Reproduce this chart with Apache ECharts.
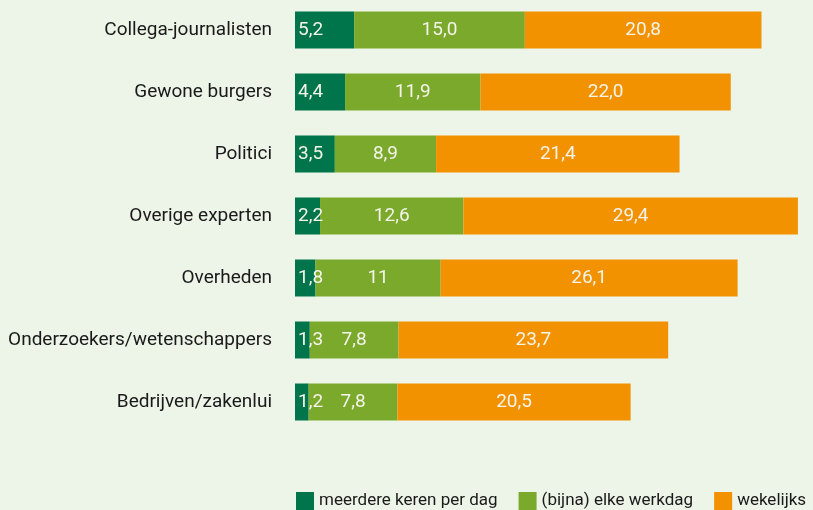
<!DOCTYPE html>
<html>
<head>
<meta charset="utf-8">
<script src="https://cdn.jsdelivr.net/npm/echarts@6/dist/echarts.min.js"></script>
<style>
  html, body { margin: 0; padding: 0; background: #edf4e8; }
  #chart { width: 813px; height: 510px; }
</style>
</head>
<body>
<div id="chart"></div>
<script>
const categories = [
  'Collega-journalisten',
  'Gewone burgers',
  'Politici',
  'Overige experten',
  'Overheden',
  'Onderzoekers/wetenschappers',
  'Bedrijven/zakenlui'
];
const seriesNames = ['meerdere keren per dag', '(bijna) elke werkdag', 'wekelijks'];
const meerdereKeren = [5.2, 4.4, 3.5, 2.2, 1.8, 1.3, 1.2];
const elkeWerkdag = [15.0, 11.9, 8.9, 12.6, 11, 7.8, 7.8];
const wekelijks = [20.8, 22.0, 21.4, 29.4, 26.1, 23.7, 20.5];
// how each value is printed in the bar (the source shows "11" without decimal)
const elkeWerkdagLabels = ['15,0', '11,9', '8,9', '12,6', '11', '7,8', '7,8'];

const colors = ['#00744a', '#7aa92b', '#f39200'];
const font = 'Roboto, sans-serif';

const fmt = v => v.toFixed(1).replace('.', ',');

function labelStyle(extra) {
  return Object.assign({
    show: true,
    color: '#f4f4ea',
    fontFamily: font,
    fontSize: 19
  }, extra);
}

const chart = echarts.init(document.getElementById('chart'));

chart.setOption({
  backgroundColor: '#edf4e8',
  animation: false,
  grid: { left: 295, top: -1, height: 434, width: 512, outerBoundsMode: 'none' },
  xAxis: { type: 'value', min: 0, max: 45, show: false },
  yAxis: {
    type: 'category',
    data: categories,
    inverse: true,
    axisLine: { show: false },
    axisTick: { show: false },
    axisLabel: { color: '#1a1a1a', fontFamily: font, fontSize: 19, margin: 23 }
  },
  legend: {
    left: 296,
    top: 492,
    width: 700,
    padding: 0,
    icon: 'rect',
    itemWidth: 18,
    itemHeight: 18,
    itemGap: 21,
    textStyle: { color: '#1a1a1a', fontFamily: font, fontSize: 17 },
    data: seriesNames
  },
  series: [
    {
      name: seriesNames[0],
      type: 'bar',
      stack: 'total',
      barWidth: 37,
      itemStyle: { color: colors[0] },
      label: labelStyle({ position: 'insideLeft', distance: 3, formatter: p => fmt(p.value) }),
      data: meerdereKeren
    },
    {
      name: seriesNames[1],
      type: 'bar',
      stack: 'total',
      barWidth: 37,
      itemStyle: { color: colors[1] },
      label: labelStyle({ position: 'inside', formatter: p => elkeWerkdagLabels[p.dataIndex] }),
      data: elkeWerkdag
    },
    {
      name: seriesNames[2],
      type: 'bar',
      stack: 'total',
      barWidth: 37,
      itemStyle: { color: colors[2] },
      label: labelStyle({ position: 'inside', formatter: p => fmt(p.value) }),
      data: wekelijks
    }
  ]
});
</script>
</body>
</html>
